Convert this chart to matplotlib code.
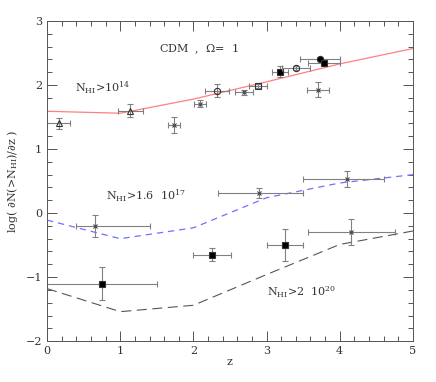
import matplotlib
matplotlib.use("Agg")
import matplotlib.pyplot as plt
from matplotlib.ticker import MultipleLocator

plt.rcParams["font.family"] = ["DejaVu Serif"]
plt.rcParams["mathtext.fontset"] = "dejavuserif"

# model curves
z_model = [0, 1, 2, 3, 4, 5]
model_14 = [1.59, 1.56, 1.78, 2.05, 2.33, 2.57]
model_17 = [-0.11, -0.40, -0.23, 0.24, 0.47, 0.60]
model_20 = [-1.18, -1.54, -1.44, -0.96, -0.49, -0.28]

# data points, N_HI > 1e14 : (z, dz, logN, dlogN, marker, filled)
d14_z = [0.16, 1.14, 1.73, 2.09, 2.32, 2.69, 2.88, 3.18, 3.40, 3.73, 3.79, 3.70]
d14_dz = [0.16, 0.17, 0.08, 0.08, 0.16, 0.12, 0.12, 0.11, 0.19, 0.27, 0.22, 0.15]
d14_y = [1.40, 1.60, 1.375, 1.71, 1.91, 1.89, 1.99, 2.21, 2.26, 2.41, 2.35, 1.93]
d14_dy = [0.08, 0.10, 0.12, 0.06, 0.10, 0.04, 0.03, 0.09, 0.03, 0.03, 0.03, 0.12]
d14_mk = ["^", "^", "X", "X", "o", "X", "s", "s", "o", "o", "s", "X"]
d14_fill = [False, False, True, True, False, True, False, True, False, True, True, True]

# N_HI > 1.6e17
d17_z = [0.66, 2.90, 4.10]
d17_dzlo = [0.26, 0.57, 0.60]
d17_dzhi = [0.74, 0.60, 0.50]
d17_y = [-0.20, 0.31, 0.53]
d17_dy = [0.17, 0.08, 0.12]

# N_HI > 2e20
d20_z = [0.75, 2.25, 3.25, 4.15]
d20_dzlo = [0.75, 0.25, 0.25, 0.58]
d20_dzhi = [0.75, 0.26, 0.25, 0.60]
d20_y = [-1.10, -0.65, -0.50, -0.30]
d20_dy = [0.25, 0.10, 0.25, 0.20]
d20_mk = ["s", "s", "s", "X"]

fig = plt.figure(figsize=(4.36, 3.82), dpi=100)
ax = fig.add_axes([0.108, 0.107, 0.839, 0.838])

ax.plot(z_model, model_14, color="#ff8080", lw=0.9)
ax.plot(z_model, model_17, color="#7070ff", lw=0.9, dashes=(5, 4))
ax.plot(z_model, model_20, color="#555555", lw=0.8, dashes=(9, 5))

ecol = "#808080"
mcol = "#333333"


def draw(zs, zlo, zhi, ys, dys, mks, fills):
    for z, a, b, y, dy, m, f in zip(zs, zlo, zhi, ys, dys, mks, fills):
        ax.errorbar([z], [y], xerr=[[a], [b]], yerr=[dy], fmt="none",
                    ecolor=ecol, elinewidth=0.8, capsize=2.5, capthick=0.8)
        if m == "X":
            ax.plot([z], [y], marker="x", ms=3, mec="#444444", mew=0.8,
                    linestyle="none")
        else:
            ax.plot([z], [y], marker=m, ms=4.5, mec=mcol,
                    mfc="black" if f else "none", mew=0.8, linestyle="none")


draw(d14_z, d14_dz, d14_dz, d14_y, d14_dy, d14_mk, d14_fill)
draw(d17_z, d17_dzlo, d17_dzhi, d17_y, d17_dy, ["X"] * 3, [True] * 3)
draw(d20_z, d20_dzlo, d20_dzhi, d20_y, d20_dy, d20_mk, [True] * 4)

ax.text(2.07, 2.56, r"CDM  ,  $\Omega$=  1", fontsize=8, ha="center", va="center",
        color="#333333")
ax.text(0.38, 1.95, r"N$_{\rm HI}$>10$^{14}$", fontsize=8, va="center", color="#333333")
ax.text(0.80, 0.27, r"N$_{\rm HI}$>1.6  10$^{17}$", fontsize=8, va="center", color="#333333")
ax.text(3.00, -1.24, r"N$_{\rm HI}$>2  10$^{20}$", fontsize=8, va="center", color="#333333")

ax.set_xlim(0, 5)
ax.set_ylim(-2, 3)
ax.xaxis.set_major_locator(MultipleLocator(1))
ax.xaxis.set_minor_locator(MultipleLocator(0.2))
ax.yaxis.set_major_locator(MultipleLocator(1))
ax.yaxis.set_minor_locator(MultipleLocator(0.2))
ax.tick_params(which="both", direction="in", top=True, right=True, colors="#555555",
               labelcolor="#333333", labelsize=8, width=0.7)
ax.tick_params(which="major", length=7)
ax.tick_params(which="minor", length=3.5)
for s in ax.spines.values():
    s.set_color("#555555")
    s.set_linewidth(0.7)

ax.set_xlabel("z", fontsize=8, color="#333333", labelpad=1)
ax.set_ylabel(r"log( $\partial$N(>N$_{\rm HI}$)/$\partial$z )", fontsize=8,
              color="#333333", labelpad=4)

fig.savefig("out.png", dpi=100)
